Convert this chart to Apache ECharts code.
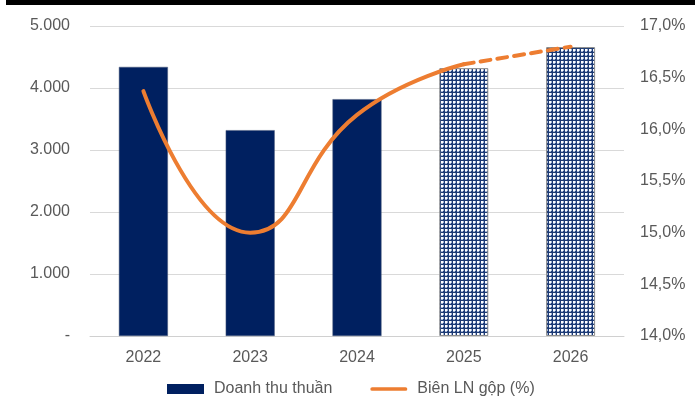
<!DOCTYPE html>
<html>
<head>
<meta charset="utf-8">
<script src="https://cdn.jsdelivr.net/npm/echarts@6/dist/echarts.min.js"></script>
<style>
  html, body { margin: 0; padding: 0; background: #fff; }
  #chart { width: 695px; height: 407px; }
</style>
</head>
<body>
<div id="chart"></div>
<script>
var years = ['2022', '2023', '2024', '2025', '2026'];
var revenue = [4340, 3320, 3820, 4320, 4660];
var margin = [16.37, 15.0, 16.14, 16.63, 16.8];
var forecastFrom = 3; // 2025, 2026 are forecasts

// checkered fill for forecast bars
var tile = document.createElement('canvas');
tile.width = 4; tile.height = 4;
var ctx = tile.getContext('2d');
ctx.fillStyle = '#1c3a74';
ctx.fillRect(0, 0, 4, 4);
ctx.fillStyle = '#ffffff';
ctx.fillRect(1, 1, 2, 2);
ctx.fillStyle = '#a3b4d6';
ctx.fillRect(3, 1, 1, 2);
ctx.fillRect(1, 3, 2, 1);

var barData = revenue.map(function (v, i) {
  if (i < forecastFrom) return v;
  return { value: v, itemStyle: { color: { image: tile, repeat: 'repeat' }, borderColor: '#8c8c8c', borderWidth: 1 } };
});
var solidLine = margin.map(function (v, i) { return i <= forecastFrom ? v : null; });
var dashLine = margin.map(function (v, i) { return i >= forecastFrom ? v : null; });

var txt = '#595959';
var font = 'Liberation Sans, Arial, sans-serif';

var chart = echarts.init(document.getElementById('chart'));
chart.setOption({
  animation: false,
  textStyle: { fontFamily: font },
  graphic: [{ type: 'rect', shape: { x: 6, y: 0, width: 689, height: 5 }, style: { fill: '#000' } }],
  grid: { left: 90, right: 71, top: 26, bottom: 71 },
  legend: {
    top: 376,
    left: 162,
    itemGap: 38,
    itemWidth: 37,
    itemHeight: 10,
    textStyle: { color: txt, fontSize: 16, fontFamily: font, padding: [0, 0, 0, 5] },
    data: [
      { name: 'Doanh thu thuần', icon: 'rect', itemStyle: { borderWidth: 0 } },
      { name: 'Biên LN gộp (%)', icon: 'path://M2,0 L38,0 A2,2 0 0 1 38,4 L2,4 A2,2 0 0 1 2,0 Z', itemStyle: { color: '#ED7D31' } }
    ]
  },
  xAxis: {
    type: 'category',
    data: years,
    axisTick: { show: false },
    axisLine: { lineStyle: { color: '#d0d0d0', width: 1 } },
    axisLabel: { color: txt, fontSize: 16, margin: 14 }
  },
  yAxis: [{
    type: 'value',
    min: 0, max: 5000, interval: 1000,
    axisLabel: {
      color: txt, fontSize: 16, margin: 20,
      formatter: function (v) { return v === 0 ? '-' : String(v).replace(/\B(?=(\d{3})+(?!\d))/g, '.'); }
    },
    splitLine: { lineStyle: { color: '#d9d9d9', width: 1 } }
  }, {
    type: 'value',
    min: 14, max: 17, interval: 0.5,
    axisLabel: {
      color: txt, fontSize: 16, margin: 16,
      formatter: function (v) { return v.toFixed(1).replace('.', ',') + '%'; }
    },
    splitLine: { show: false }
  }],
  series: [{
    name: 'Doanh thu thuần',
    type: 'bar',
    data: barData,
    barWidth: 49,
    itemStyle: { color: '#002060', borderColor: '#4a5a7a', borderWidth: 0.5 }
  }, {
    name: 'Biên LN gộp (%)',
    type: 'line',
    yAxisIndex: 1,
    data: solidLine,
    smooth: 0.5,
    symbol: 'none',
    lineStyle: { color: '#ED7D31', width: 4, cap: 'round' },
    itemStyle: { color: '#ED7D31' }
  }, {
    name: 'Biên LN gộp (%)',
    type: 'line',
    yAxisIndex: 1,
    data: dashLine,
    smooth: 0.5,
    symbol: 'none',
    lineStyle: { color: '#ED7D31', width: 4, type: [10, 7], cap: 'round' },
    itemStyle: { color: '#ED7D31' }
  }]
});
</script>
</body>
</html>
